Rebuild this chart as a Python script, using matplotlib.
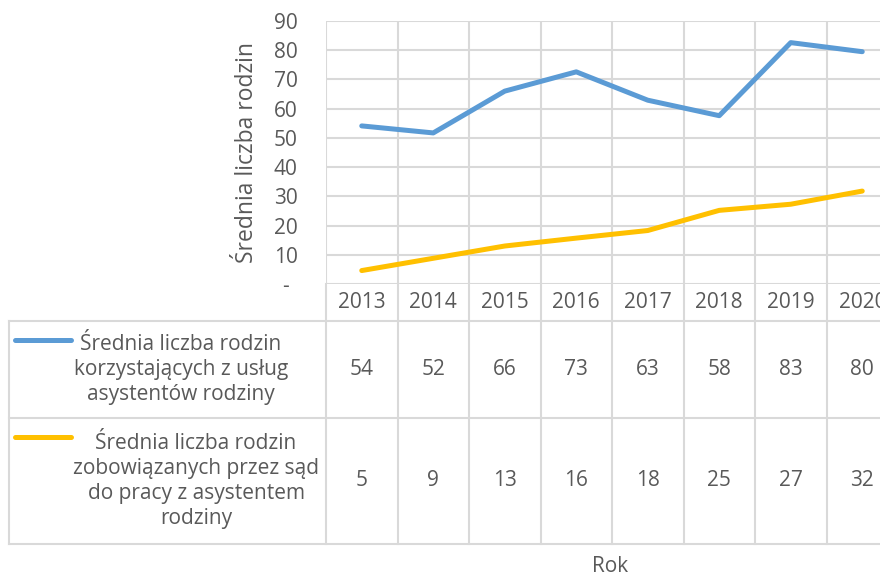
import numpy as np
import matplotlib
matplotlib.use('Agg')
from matplotlib import pyplot as plt
from matplotlib import transforms

# data
years = ['2013', '2014', '2015', '2016', '2017', '2018', '2019', '2020']
korzystajace = [54.1, 51.7, 66.0, 72.6, 62.9, 57.6, 82.6, 79.5]
zobowiazane = [4.6, 8.8, 13.0, 15.7, 18.3, 25.2, 27.3, 31.8]
series_names = ['Średnia liczba rodzin\nkorzystających z usług\nasystentów rodziny',
                'Średnia liczba rodzin\nzobowiązanych przez sąd\ndo pracy z asystentem\nrodziny']
y_ticks = list(range(0, 100, 10))
y_ticklabels = ['-'] + [str(v) for v in y_ticks[1:]]

blue = '#5B9BD5'
yellow = '#FFC000'
grid_c = '#D9D9D9'
txt_c = '#595959'

plt.rcParams['font.family'] = ['Open Sans', 'DejaVu Sans']
fs = 15

W, H = 880., 575.
fig = plt.figure(figsize=(W / 100, H / 100), dpi=100)

def fy(py):
    # pixel row -> figure fraction
    return 1 - py / H

plot_left, plot_right, plot_top, plot_bottom = 326., 898., 21., 284.
ax = fig.add_axes([plot_left / W, fy(plot_bottom), (plot_right - plot_left) / W,
                   (plot_bottom - plot_top) / H])

n = len(years)
xc = np.arange(n) + 0.5
ax.plot(xc, korzystajace, color=blue, lw=3.6, solid_capstyle='round', solid_joinstyle='round', zorder=3)
ax.plot(xc, zobowiazane, color=yellow, lw=3.6, solid_capstyle='round', solid_joinstyle='round', zorder=3)

ax.set_xlim(0, n)
ax.set_ylim(0, 90)
ax.set_xticks(np.arange(n + 1))
ax.set_xticklabels([])
ax.set_yticks(y_ticks)
ax.set_yticklabels(y_ticklabels, ha='center', fontsize=fs, color=txt_c)
ax.tick_params(length=0)
ax.tick_params(axis='y', pad=29)
ax.grid(True, color=grid_c, lw=1.5)
ax.set_axisbelow(True)
for s in ax.spines.values():
    s.set_visible(False)

ax.set_ylabel('Średnia liczba rodzin', fontsize=16.5, color=txt_c, labelpad=10.5)

# data table under the chart
blend = transforms.blended_transform_factory(ax.transData, fig.transFigure)
row_lines = [321., 418., 544.]
table_left = 9.

for i in range(n + 1):
    ax.plot([i, i], [fy(plot_bottom), fy(row_lines[-1])], transform=blend,
            color=grid_c, lw=1.5, clip_on=False)
for py in row_lines:
    fig.add_artist(plt.Line2D([table_left / W, 1.05], [fy(py), fy(py)], color=grid_c, lw=1.5))
fig.add_artist(plt.Line2D([table_left / W, table_left / W], [fy(row_lines[0]), fy(row_lines[-1])],
                          color=grid_c, lw=1.5))

# year row
for i, yr in enumerate(years):
    ax.text(xc[i], fy(303), yr, transform=blend, ha='center', va='center',
            fontsize=fs, color=txt_c, clip_on=False)

# series rows
rows = [korzystajace, zobowiazane]
colors = [blue, yellow]
key_y = [340., 437.]
name_x = [181., 196.]
for r, vals in enumerate(rows):
    y_mid = fy((row_lines[r] + row_lines[r + 1]) / 2)
    fig.add_artist(plt.Line2D([15 / W, 71 / W], [fy(key_y[r]), fy(key_y[r])], color=colors[r],
                              lw=3.6, solid_capstyle='round'))
    fig.text(name_x[r] / W, y_mid, series_names[r], ha='center', va='center', fontsize=fs,
             color=txt_c, linespacing=1.25)
    for i, v in enumerate(vals):
        ax.text(xc[i], y_mid, '%d' % round(v), transform=blend, ha='center', va='center',
                fontsize=fs, color=txt_c, clip_on=False)

fig.text(610 / W, fy(566), 'Rok', ha='center', va='center', fontsize=fs, color=txt_c)

plt.savefig('out.png', dpi=100)
plt.close()
